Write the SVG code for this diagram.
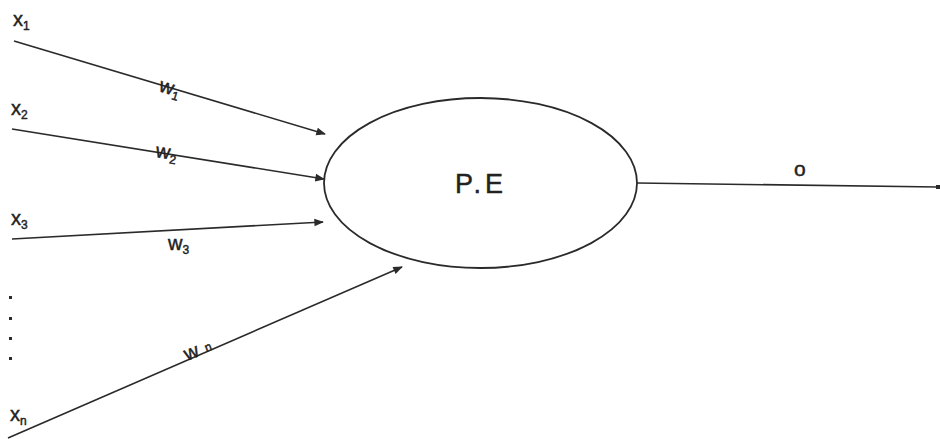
<svg xmlns="http://www.w3.org/2000/svg" width="940" height="439" viewBox="0 0 940 439">
  <style>
    .lbl { font-family: "Liberation Sans", Arial, sans-serif; fill: #222; stroke: #222; stroke-width: 0.45; }
    .main { font-size: 20px; }
    .sub { font-size: 12px; }
    .wire { stroke: #2a2a2a; stroke-width: 1.6; fill: none; }
  </style>
  <defs>
    <marker id="arrow" viewBox="0 0 10 10" refX="9" refY="5" markerWidth="8" markerHeight="6" orient="auto" markerUnits="strokeWidth">
      <path d="M0,1 L10,5 L0,9 Z" fill="#2a2a2a"/>
    </marker>
    <marker id="dot" viewBox="0 0 4 4" refX="2" refY="2" markerWidth="3" markerHeight="3" orient="auto" markerUnits="strokeWidth">
      <rect x="0" y="0" width="4" height="4" fill="#2a2a2a"/>
    </marker>
  </defs>
  <rect width="940" height="439" fill="#ffffff"/>

  <g id="connectors">
    <line class="wire" x1="14" y1="41" x2="325" y2="134" marker-end="url(#arrow)"/>
    <line class="wire" x1="12" y1="129" x2="324" y2="179" marker-end="url(#arrow)"/>
    <line class="wire" x1="12" y1="239" x2="323" y2="222" marker-end="url(#arrow)"/>
    <line class="wire" x1="8" y1="438" x2="402" y2="267" marker-end="url(#arrow)"/>
    <line class="wire" x1="637" y1="183" x2="938" y2="187" marker-end="url(#dot)"/>
  </g>

  <g id="inputs">
    <text class="lbl main" x="13" y="26">x<tspan class="sub" dy="4">1</tspan></text>
    <text class="lbl main" x="11" y="115">x<tspan class="sub" dy="4">2</tspan></text>
    <text class="lbl main" x="11" y="225">x<tspan class="sub" dy="4">3</tspan></text>
    <text class="lbl main" x="10" y="421">x<tspan class="sub" dy="4">n</tspan></text>
    <g id="ellipsis" fill="#2a2a2a">
      <rect x="9" y="296" width="3" height="3"/>
      <rect x="9" y="317" width="3" height="3"/>
      <rect x="9" y="337" width="3" height="3"/>
      <rect x="9" y="357" width="3" height="3"/>
    </g>
  </g>

  <g id="weights">
    <text class="lbl main" x="158" y="91" transform="rotate(17 158 91)">w<tspan class="sub" dy="4">1</tspan></text>
    <text class="lbl main" x="155" y="157" transform="rotate(9 155 157)">w<tspan class="sub" dy="4">2</tspan></text>
    <text class="lbl main" x="168" y="250">w<tspan class="sub" dy="4">3</tspan></text>
    <text class="lbl main" x="187" y="361" transform="rotate(-22 187 361)">w<tspan class="sub" dx="7" dy="-1">n</tspan></text>
  </g>

  <g id="pe">
    <ellipse cx="480.5" cy="183" rx="156.5" ry="85" fill="none" stroke="#2a2a2a" stroke-width="1.8"/>
    <text class="lbl" x="481" y="193" font-size="27" letter-spacing="4" text-anchor="middle">P.E</text>
  </g>

  <g id="output">
    <text class="lbl" x="794" y="176" font-size="21">o</text>
  </g>
</svg>
